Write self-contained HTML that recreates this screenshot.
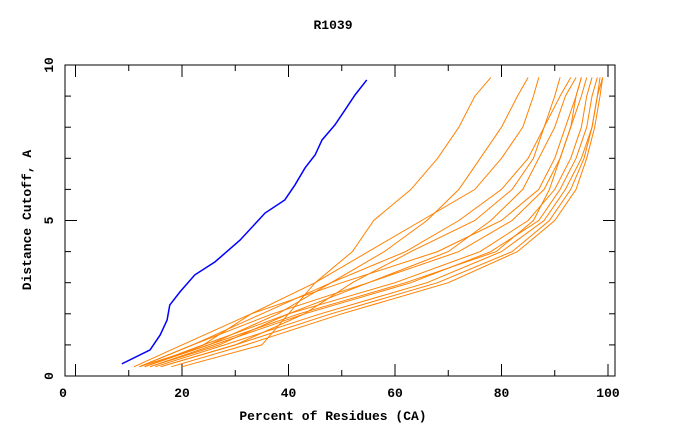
<!DOCTYPE html>
<html><head><meta charset="utf-8"><style>
body{margin:0;background:#fff}
svg{display:block}
text{font-family:"Liberation Mono",monospace;font-weight:bold;font-size:13px;fill:#000}
</style></head><body>
<svg id="chart" width="680" height="440">
<text x="333" y="29" text-anchor="middle">R1039</text>
<rect x="65" y="65" width="550" height="311" fill="none" stroke="#000" stroke-width="1"/>
<g id="ticks"></g>
<g id="series"></g>
<text x="333" y="420" text-anchor="middle">Percent of Residues (CA)</text>
<text transform="translate(31,220) rotate(-90)" text-anchor="middle">Distance Cutoff, A</text>
</svg>
<script>
const xTickLabels=[0,20,40,60,80,100];
const yTickLabels=[0,5,10];
const blueX=[8.7,14.0,15.9,17.2,17.7,19.6,22.4,26.2,30.9,35.6,39.3,41.2,43.1,45.0,46.3,48.7,50.6,52.5,54.7];
const blueY=[0.39,0.84,1.32,1.8,2.28,2.7,3.25,3.67,4.37,5.24,5.66,6.14,6.69,7.11,7.59,8.07,8.55,9.04,9.52];
const orangeLevels=[0.3,1,2,3,4,5,6,7,8,9,9.6];
const orA=[12,22,37,55,72,82,88,91,93,95,96];
const orB=[13,24,40,60,76,85,90,93,95,96,97];
const orC=[14,26,43,63,78,87,91,94,96,97,98];
const orD=[15,28,46,66,80,88,92,95,97,98,98.5];
const orE=[16,30,48,68,82,89,93,95.5,97,98,99];
const orF=[11,20,33,50,68,80,87,90,92,94,95];
const orG=[18,32,50,70,83,90,94,96,97.5,98.5,99];
const orH=[13,25,42,62,79,86,89,91,93,94,95];
const orO1=[20,35,40,45,52,56,63,68,72,75,78];
const orO2=[12,25,38,48,58,66,72,76,80,83,85];
const orO3=[13,24,33,45,55,65,75,80,84,86,87];
const orO4=[12,22,35,48,62,72,80,85,88,91,93];
const orO5=[16,30,43,52,63,75,82,86,88,90,91];
const orO6=[14,27,40,55,70,78,84,87,90,92,94];
const orangeSeries=[orA,orB,orC,orD,orE,orF,orG,orH,orO1,orO2,orO3,orO4,orO5,orO6];

const NS="http://www.w3.org/2000/svg";
function xs(v){return 75.5+5.325*v;}
function ys(v){return 376-31.1*v;}
const tg=document.getElementById('ticks');
const sg=document.getElementById('series');
function line(x1,y1,x2,y2){const l=document.createElementNS(NS,'line');l.setAttribute('x1',x1);l.setAttribute('y1',y1);l.setAttribute('x2',x2);l.setAttribute('y2',y2);l.setAttribute('stroke','#000');tg.appendChild(l);return l;}
for(let v=0;v<=100;v+=10){const x=xs(v);const len=(v%20===0)?12:6;
 const a=line(x,376,x,376-len);
 const b=line(x,65,x,65+len);}
for(let v=1;v<10;v++){const y=ys(v);const len=(v%5===0)?12:6;
 const a=line(65,y,65+len,y);
 const b=line(615,y,615-len,y);}
xTickLabels.forEach(v=>{const t=document.createElementNS(NS,'text');
 t.setAttribute('x',v===0?63:xs(v));t.setAttribute('y',397);t.setAttribute('text-anchor','middle');t.textContent=v;
 
 
 tg.appendChild(t);});
yTickLabels.forEach(v=>{const t=document.createElementNS(NS,'text');
 const y=v===10?65:ys(v);
 t.setAttribute('transform','translate(53,'+y+') rotate(-90)');t.setAttribute('text-anchor','middle');t.textContent=v;
 
 
 tg.appendChild(t);});
function poly(xv,yv,color,name){const p=document.createElementNS(NS,'polyline');
 p.setAttribute('points',xv.map((x,i)=>xs(x)+','+ys(yv[i])).join(' '));
 p.setAttribute('fill','none');p.setAttribute('stroke',color);p.setAttribute('stroke-width',color==='#0000ff'?1.5:1);
 
 
 sg.appendChild(p);}
orangeSeries.forEach((s,i)=>poly(s,orangeLevels,'#ff8000','orange-series-'+(i+1)));
poly(blueX,blueY,'#0000ff','blue-series');
</script>
</body></html>
